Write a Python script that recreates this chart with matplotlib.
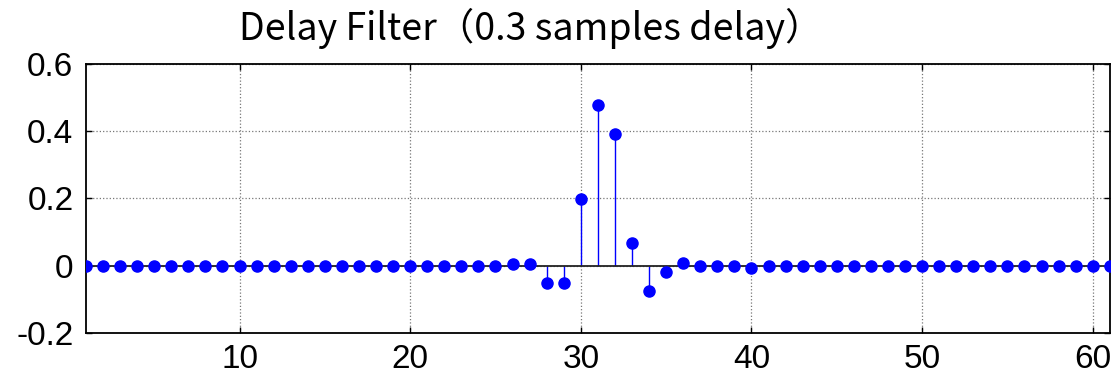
import matplotlib.pyplot as plt
import numpy as np

# filter taps, n = 1..61
n = np.arange(1, 62)
h = [0.0] * 25 + [0.004, 0.004, -0.05, -0.05, 0.197, 0.479, 0.392, 0.068,
                  -0.074, -0.02, 0.008, -0.001, 0.0, 0.0, -0.008] + [0.0] * 21
xticks = [10, 20, 30, 40, 50, 60]
yticks = [-0.2, 0, 0.2, 0.4, 0.6]
ylabels = ['-0.2', '0', '0.2', '0.4', '0.6']
title = 'Delay Filter（0.3 samples delay）'


def main():
    fig = plt.figure(figsize=(11.12, 3.74), dpi=100)
    ax = fig.add_axes([0.0773, 0.1096, 0.9207, 0.7194])

    markers, stems, base = ax.stem(n, h)
    plt.setp(markers, color='#0000ff', markersize=8, zorder=4)
    plt.setp(stems, color='#0000ff', linewidth=1.0)
    plt.setp(base, color='#222222', linewidth=1.3)

    ax.set_xlim(1, 61)
    ax.set_ylim(-0.2, 0.6)
    ax.set_xticks(xticks)
    ax.set_yticks(yticks)
    ax.set_yticklabels(ylabels)
    ax.grid(True, color='#777777', linestyle=':', linewidth=0.9)
    ax.tick_params(direction='in', length=4, width=1, top=True, right=True,
                   labelsize=24)
    ax.tick_params(axis='y', pad=9)
    ax.tick_params(axis='x', pad=8)
    for lab in ax.get_xticklabels() + ax.get_yticklabels():
        lab.set_family('Liberation Sans')
    for s in ax.spines.values():
        s.set_linewidth(1.3)

    fig.text(0.477, 0.893, title, ha='center', va='baseline', fontsize=27,
             family=['Noto Sans CJK SC', 'DejaVu Sans'])

    fig.savefig('out.png', dpi=100)


if __name__ == '__main__':
    main()
